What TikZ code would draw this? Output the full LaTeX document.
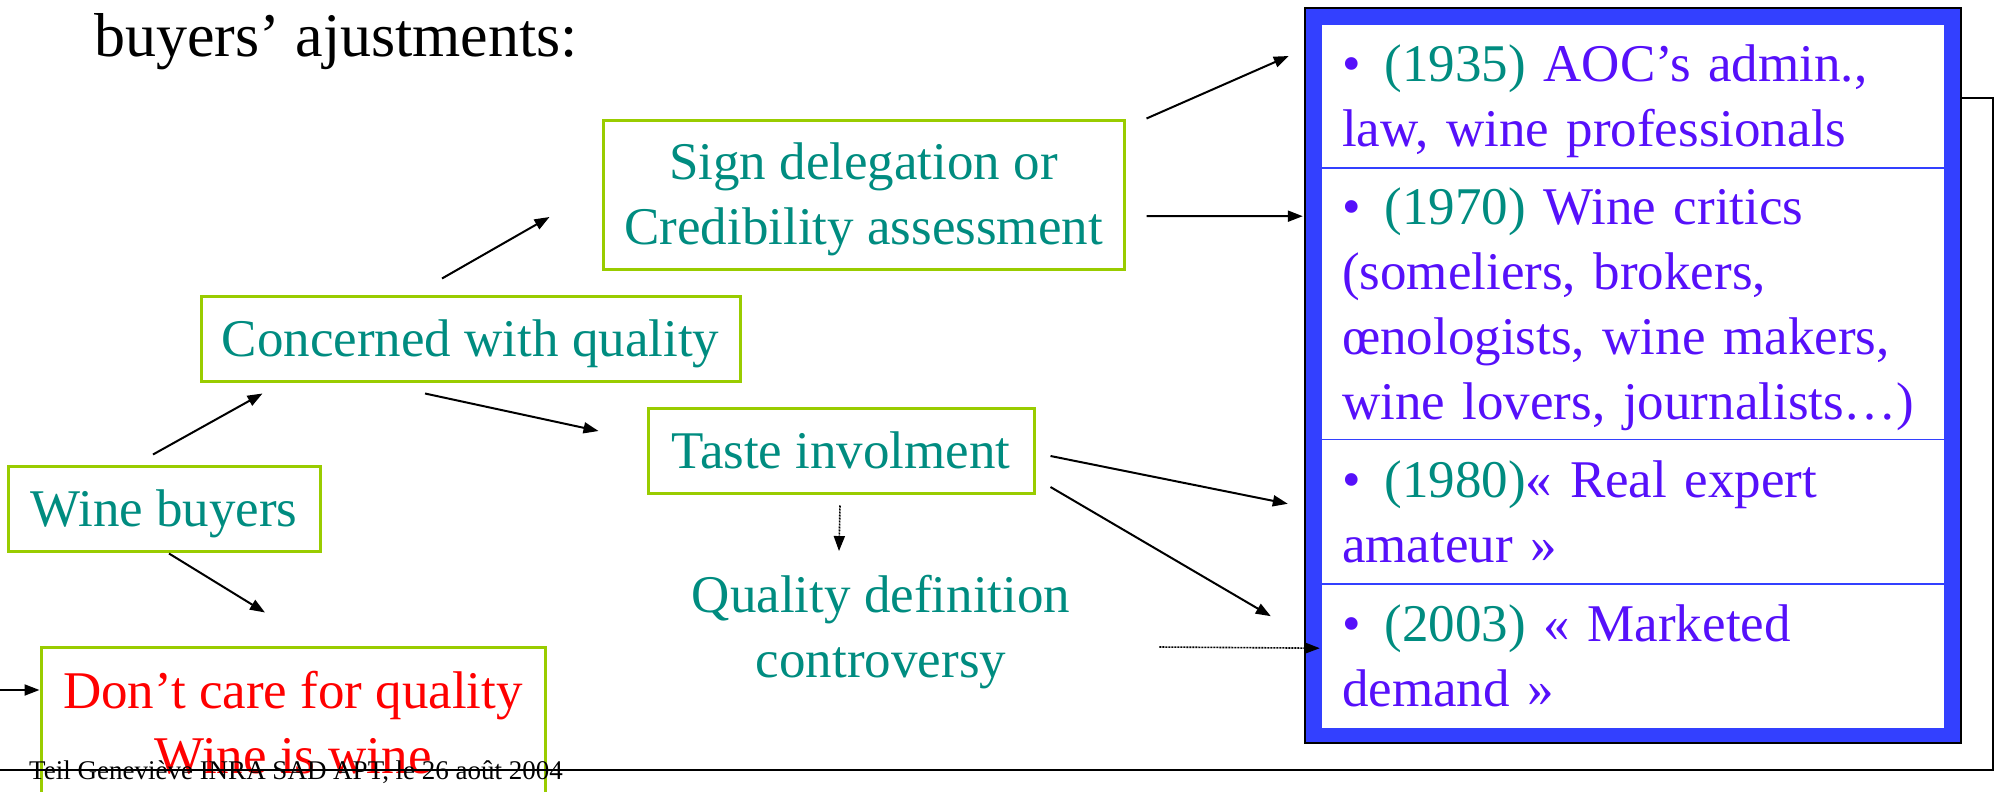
\documentclass[tikz,border=0pt]{standalone}
\usepackage{fontspec}
\setmainfont{Liberation Serif}
\usepackage{xcolor}
\usepackage{tikz}
\usetikzlibrary{arrows.meta, positioning, calc}
\definecolor{boxline}{RGB}{153,204,0}
\definecolor{boxtext}{RGB}{0,140,128}
\definecolor{entrytext}{RGB}{86,16,250}
\definecolor{panelblue}{RGB}{51,64,255}
\newcommand{\bodyfont}{\fontsize{53}{65}\selectfont}
\newcommand{\linestrut}{\rule[-11.5pt]{0pt}{58.5pt}}
\newcommand{\topstrut}{\rule{0pt}{47pt}}
\newcommand{\itemyear}[1]{\textcolor{boxtext}{#1}}
\newcommand{\entrybullet}{\topstrut\textbullet\hspace{24pt}}
\tikzset{
    stage/.style={draw=boxline, line width=3pt, text=boxtext, font=\bodyfont, align=center, inner sep=0pt,
        execute at begin node=\linestrut, execute at end node=\linestrut},
    entry/.style={text width=582pt, minimum width=622pt, inner xsep=20pt, inner ysep=0pt, align=left,
        font=\bodyfont, text=entrytext, execute at begin node=\linestrut, execute at end node=\linestrut},
    arrow/.style={-{Triangle[length=15pt, width=11pt]}, line width=2pt, draw=black},
    dotarrow/.style={arrow, densely dotted, line width=1.6pt},
    divider/.style={draw=panelblue, line width=1.5pt}
}

\begin{document}
\begin{tikzpicture}[x=1pt, y=-1pt]
        \useasboundingbox (0,0) rectangle (1995,792);
        \clip (0,0) rectangle (1995,792);

        % Heading
        \node[anchor=base west, inner sep=0pt, font=\fontsize{62}{70}\selectfont] (title) at (94,57) {buyers’ ajustments:};

        % Buyer attitudes
        \node[stage, minimum width=312pt, minimum height=85pt] (buyers) at (164,508.5) {Wine buyers};
        \node[stage, minimum width=539pt, minimum height=85pt] (concerned) at (470.5,338.5) {Concerned with quality};
        \node[stage, minimum width=521pt, minimum height=149pt] (sign) at (863.5,194.5) {\topstrut Sign delegation or\\Credibility assessment};
        \node[stage, minimum width=386pt, minimum height=85pt] (taste) at (841,450.5) {Taste involment};
        \node[stage, text=red, minimum width=504pt, minimum height=152pt] (nocare) at (293,723) {\topstrut Don’t care for quality\\Wine is wine};
        \node[font=\bodyfont, text=boxtext, align=center, inner sep=0pt,
              execute at begin node=\linestrut, execute at end node=\linestrut] (controversy) at (881,627) {\topstrut Quality definition\\controversy};

        % Blue frame of the experts panel
        \filldraw[fill=panelblue, draw=black, line width=2.5pt] (1305,8) rectangle (1961,743);
        \fill[white] (1322,25) rectangle (1944,728);

        % Experts, one entry per period
        \node[entry, minimum height=143pt] (aoc) at (1633,96.5) {\entrybullet\itemyear{(1935)} AOC’s admin.,\\law, wine professionals};
        \node[entry, minimum height=271pt, below=0pt of aoc] (critics) {\entrybullet\itemyear{(1970)} Wine critics\\(someliers, brokers,\\œnologists, wine makers,\\wine lovers, journalists…)};
        \node[entry, minimum height=144pt, below=0pt of critics] (amateur) {\entrybullet\itemyear{(1980)}« Real expert\\amateur »};
        \node[entry, minimum height=145pt, below=0pt of amateur] (market) {\entrybullet\itemyear{(2003)} « Marketed\\demand »};
        \foreach \e in {aoc, critics, amateur} {
            \draw[divider] (\e.south west) -- (\e.south east);
        }

        % Tree arrows
        \draw[arrow] ($(buyers.north)+(-11,-10)$) -- ($(concerned.south west)+(63,11)$);
        \draw[arrow] ($(buyers.south)+(5,1)$) -- ($(nocare.north)+(-28,-33)$);
        \draw[arrow] ($(concerned.north)+(-28.5,-16)$) -- ($(sign.west)+(-52,22.5)$);
        \draw[arrow] ($(concerned.south)+(-45.5,11)$) -- ($(taste.west)+(-48,-19.5)$);

        % Arrows into the panel
        \draw[arrow] ($(sign.north east)+(21,0)$) -- ($(aoc.west)+(-33,-40.5)$);
        \draw[arrow] ($(sign.east)+(21,21.5)$) -- ($(critics.north west)+(-19,48)$);
        \draw[arrow] ($(taste.east)+(15,5.5)$) -- ($(amateur.west)+(-34,-8)$);
        \draw[arrow] ($(taste.east)+(15,36.5)$) -- ($(market.west)+(-51,-40.5)$);
        \draw[dotarrow] ($(taste.south)+(-1,11)$) -- ($(controversy.north)+(-42,-14)$);
        \draw[dotarrow] ($(controversy.east)+(89,20)$) -- ($(market.west)+(-2,-8.5)$);

        % Loop back round the page to the indifferent buyers
        \draw[arrow] ($(aoc.east)+(17,1.5)$) -| (1993,770) -- (-6,770) |- ($(nocare.west)+(0,-33)$);

        % Footer
        \node[anchor=base west, inner sep=0pt, font=\fontsize{27}{30}\selectfont] (footer) at (29,779) {Teil Geneviève INRA SAD APT, le 26 août 2004};
    \end{tikzpicture}
\end{document}
